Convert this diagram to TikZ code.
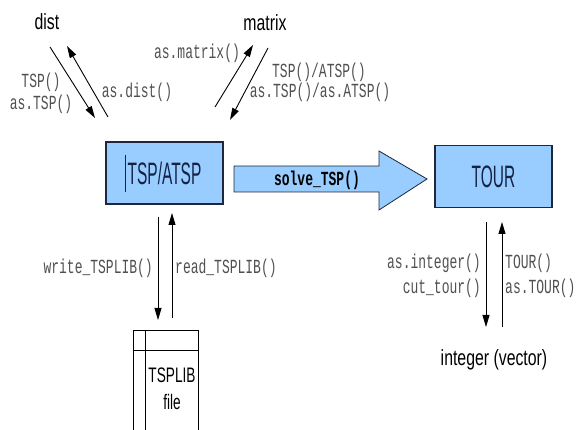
\documentclass[tikz,border=0pt]{standalone}
\usepackage{fontspec}
\setmainfont{Liberation Sans}
\setmonofont{Liberation Mono}
\newfontfamily\boxfont[FakeStretch=0.5]{Liberation Sans}
\newfontfamily\lblfont[FakeStretch=0.72]{Liberation Sans}
\newfontfamily\libfont[FakeStretch=0.65]{Liberation Sans}
\newfontfamily\codefont[FakeStretch=0.65]{Liberation Mono}
\usetikzlibrary{arrows.meta}
\definecolor{boxfill}{RGB}{153,204,255}
\definecolor{boxline}{RGB}{30,40,60}
\definecolor{boxtext}{RGB}{20,35,70}
\definecolor{codegray}{RGB}{80,80,80}
\begin{document}
\begin{tikzpicture}[x=1pt,y=-1pt,
  box/.style={draw=boxline, line width=1.3pt, fill=boxfill, minimum width=117pt, minimum height=62pt, inner sep=0pt, text=boxtext, font=\boxfont\fontsize{31}{31}\selectfont},
  lbl/.style={font=\lblfont\fontsize{22}{22}\selectfont, inner sep=0pt},
  code/.style={font=\codefont\fontsize{20}{22}\selectfont, text=codegray, inner sep=0pt},
  arr/.style={line width=0.9pt, -{Triangle[length=12pt,width=7pt]}},
  bigarrow/.style={draw=boxline, line width=0.8pt, fill=boxfill}
]
\useasboundingbox (0,0) rectangle (576,430);
% nodes
\node[lbl] (dist) at (47,22) {dist};
\node[lbl] (matrix) at (265,23) {matrix};
\node[box] (tsp) at (164.5,173) {TSP/ATSP};
\draw[line width=0.8pt, boxtext] (125,155) -- (125,192);
\node[box] (tour) at (493.5,176.5) {TOUR};
\node[lbl] (int) at (494,360) {integer (vector)};
% TSPLIB file
\node[draw, line width=1pt, minimum width=65pt, minimum height=115pt, inner sep=0pt, anchor=north west] (lib) at (133,330) {};
\draw[line width=1pt] (133,351) -- (198,351);
\draw[line width=0.8pt] (145,330) -- (145,445);
\node[font=\libfont\fontsize{21}{27}\selectfont, align=center, inner sep=0pt] (libtext) at (172,389) {TSPLIB\\file};
% big arrow
\draw[bigarrow] (234,166) -- (379,166) -- (379,151) -- (427,179) -- (379,210) -- (379,192) -- (234,192) -- cycle;
\node[code, font=\codefont\bfseries\fontsize{20}{22}\selectfont, text=black] (solve) at (317,180) {solve\_TSP()};
% coordinates for connectors
\coordinate (d1s) at (50,47);
\coordinate (d1e) at (95,118);
\coordinate (d2s) at (108,117);
\coordinate (d2e) at (67,46);
\coordinate (m1s) at (215,107);
\coordinate (m1e) at (253,45);
\coordinate (m2s) at (268,48);
\coordinate (m2e) at (230,120);
\coordinate (w1s) at (158,217);
\coordinate (w1e) at (158,320);
\coordinate (r1s) at (172,318);
\coordinate (r1e) at (172,213);
\coordinate (i1s) at (486,222);
\coordinate (i1e) at (486,327);
\coordinate (t1s) at (502,327);
\coordinate (t1e) at (502,222);
\draw[arr] (d1s) -- (d1e);
\draw[arr] (d2s) -- (d2e);
\draw[arr] (m1s) -- (m1e);
\draw[arr] (m2s) -- (m2e);
\draw[arr] (w1s) -- (w1e);
\draw[arr] (r1s) -- (r1e);
\draw[arr] (i1s) -- (i1e);
\draw[arr] (t1s) -- (t1e);
% labels
\node[code] (l1) at (41,82) {TSP()};
\node[code] (l2) at (41,104) {as.TSP()};
\node[code] (l3) at (137,92) {as.dist()};
\node[code] (l4) at (197,53) {as.matrix()};
\node[code] (l5) at (319,72) {TSP()/ATSP()};
\node[code] (l6) at (320,92) {as.TSP()/as.ATSP()};
\node[code, anchor=east] (l7) at (153,268) {write\_TSPLIB()};
\node[code, anchor=west] (l8) at (175,268) {read\_TSPLIB()};
\node[code, anchor=east] (l9) at (481,263) {as.integer()};
\node[code, anchor=east] (l10) at (481,288) {cut\_tour()};
\node[code, anchor=west] (l11) at (505,263) {TOUR()};
\node[code, anchor=west] (l12) at (505,288) {as.TOUR()};
\end{tikzpicture}
\end{document}
